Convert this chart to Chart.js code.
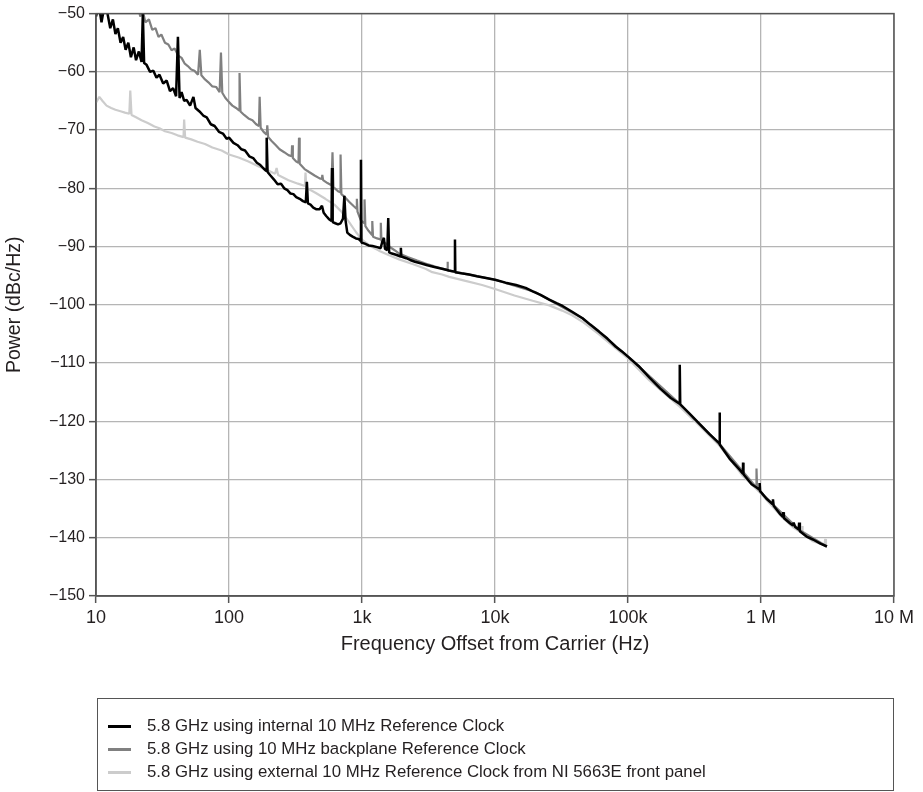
<!DOCTYPE html>
<html>
<head>
<meta charset="utf-8">
<script src="https://cdn.jsdelivr.net/npm/chart.js@4.4.1/dist/chart.umd.min.js"></script>
<style>
  html, body { margin: 0; padding: 0; background: #fff; }
  #wrap { position: relative; width: 923px; height: 792px; overflow: hidden; }
  #chart { position: absolute; left: 0; top: 0; }
  #legend {
    position: absolute; left: 97px; top: 698px; width: 797px; height: 93px;
    box-sizing: border-box; border: 1.5px solid #555;
    font-family: "Liberation Sans", Arial, sans-serif; font-size: 16.8px; color: #231f20;
  }
  .item { position: absolute; left: 10px; height: 20px; line-height: 20px; white-space: nowrap; }
  .swatch { display: inline-block; width: 23px; height: 3px; vertical-align: middle; margin-right: 16px; }
</style>
</head>
<body>
<div id="wrap">
  <canvas id="chart" width="923" height="792"></canvas>
  <div id="legend"></div>
</div>
<script>
// ---- data (frequency in Hz, power in dBc/Hz) ----
const seriesLabels = [
  '5.8 GHz using internal 10 MHz Reference Clock',
  '5.8 GHz using 10 MHz backplane Reference Clock',
  '5.8 GHz using external 10 MHz Reference Clock from NI 5663E front panel',
];
const seriesColors = ['#000000', '#808080', '#cccccc'];
const seriesWidths = [2.5, 2.2, 2.2];

const xTickValues = [10, 100, 1e3, 1e4, 1e5, 1e6, 1e7];
const xTickLabels = ['10', '100', '1k', '10k', '100k', '1 M', '10 M'];

const internalFreq = [10, 10.5, 11, 11.5, 12.2, 12.8, 13.4, 14, 14.6, 15.3, 16, 16.7, 17.5, 18.3, 19.2, 20, 21, 22, 22.5, 23,
  24, 25.5, 27, 28.5, 30, 32, 34, 36, 38, 40, 41.3, 42.5, 44, 46, 48, 51, 54, 56, 60, 64,
  68, 73, 78, 84, 90, 96, 100, 108, 116, 124, 132, 142, 152, 162, 172, 182, 190, 192, 195, 205,
  218, 232, 246, 260, 275, 290, 305, 320, 340, 360, 378, 385, 392, 410, 430, 455, 480, 500, 515, 540,
  565, 590, 595, 602, 630, 660, 690, 720, 737, 752, 775, 810, 850, 900, 945, 975, 982, 990, 1050, 1120,
  1200, 1300, 1380, 1420, 1460, 1490, 1550, 1575, 1600, 1680, 1800, 1950, 1960, 1975, 2150, 2300, 2500, 2800, 3100, 3500,
  4000, 4500, 4980, 5000, 5030, 5600, 6400, 7300, 8200, 10000, 12000, 14400, 17000, 19200, 22000, 25600, 29000, 32200, 38000, 45500,
  52000, 60600, 70000, 81000, 90000, 100000, 120000, 145000, 175000, 210000, 244000, 245000, 247000, 290000, 346000, 410000, 486000, 488000, 491000, 580000,
  690000, 731000, 733000, 738000, 850000, 975000, 977000, 985000, 1100000, 1220000, 1230000, 1245000, 1400000, 1460000, 1470000, 1485000, 1650000, 1740000, 1760000, 1800000,
  1920000, 1935000, 1960000, 2200000, 2460000, 2800000, 3130000];
const internalPower = [-50.5, -48.5, -51.5, -49, -50, -52.5, -51, -53.5, -52.5, -55, -54, -56.2, -55, -57.5, -55.8, -58, -56.5, -58.3, -50, -58.5,
  -58.8, -60, -59.8, -61, -60.5, -62, -61.5, -63.3, -62.8, -64.2, -54, -64.5, -63.5, -65, -64.8, -65.8, -64.3, -66.2, -66.8, -67.5,
  -67.8, -69, -69.3, -70.3, -70.6, -71.5, -71.3, -72.2, -72.6, -73.3, -73.5, -74.5, -74.8, -75.6, -76, -76.6, -77, -71.3, -77.2, -77.8,
  -78.5, -79.3, -79.2, -80, -80.3, -80.9, -81, -81.5, -81.8, -82.2, -82.4, -78.9, -82.6, -82.8, -83.3, -83.6, -83.6, -83, -84.2, -84.8,
  -85.3, -85.6, -76.5, -85.8, -86, -86.2, -86, -85.2, -81.3, -85.5, -87.6, -88, -88.3, -88.6, -88.7, -89, -75.1, -89.3, -89.5, -89.8,
  -89.9, -90.1, -90.3, -89.2, -88.5, -90.4, -90.6, -85.1, -91, -91.2, -91.4, -91.7, -90.2, -91.7, -92, -92.3, -92.6, -92.9, -93.2, -93.5,
  -93.8, -94.1, -94.3, -88.8, -94.4, -94.6, -94.8, -95.1, -95.3, -95.7, -96.2, -96.6, -97.1, -97.7, -98.3, -99.1, -99.7, -100.2, -101.2, -102.3,
  -103.4, -104.6, -105.8, -107.2, -108, -108.9, -110.5, -112.5, -114.4, -116, -117, -110.3, -117.1, -118.7, -120.5, -122.2, -123.8, -118.5, -124, -126.4,
  -128.3, -129, -127.1, -129.1, -130.8, -131.7, -130.6, -132, -133.3, -134.2, -133.4, -134.5, -136, -136.4, -135.6, -136.6, -137.5, -137.9, -137.4, -138.1,
  -138.6, -137.4, -138.9, -139.8, -140.3, -141, -141.5];

const backplaneFreq = [20.5, 21.5, 22.5, 23.5, 25, 26.5, 28, 29.5, 31, 33, 35, 37, 39, 41.5, 44, 46.5, 49, 52, 55, 58.5,
  60.3, 62, 66, 70, 75, 80, 85, 87, 89, 94, 100, 106, 113, 119, 120, 122, 130, 140, 150, 160,
  168, 170, 173, 182, 192, 194, 197, 210, 225, 240, 260, 280, 296, 298, 302, 320, 333, 336, 340, 370,
  400, 440, 480, 500, 503, 510, 550, 590, 600, 610, 660, 686, 690, 700, 750, 800, 860, 910, 915, 925,
  980, 1040, 1045, 1060, 1120, 1190, 1195, 1210, 1300, 1380, 1385, 1400, 1520, 1650, 1800, 1900, 2200, 2600, 3000, 3500,
  4000, 4390, 4400, 4420, 5000, 7000, 10000, 20000, 45500, 100000, 245000, 488000, 920000, 925000, 935000, 1220000, 1930000, 3130000];
const backplanePower = [-48, -50.5, -49.5, -51.5, -51, -52.8, -52.5, -54, -53.6, -55, -55.3, -56.3, -56, -57.2, -57.6, -58.6, -59, -59.6, -59.8, -60.5,
  -56.2, -60.6, -61.3, -61.8, -62.5, -62.6, -63.5, -56.7, -63.6, -64.5, -65.2, -65.8, -66.2, -66.6, -60.2, -66.8, -67.4, -68, -68.3, -69,
  -69.3, -64.3, -69.6, -70.3, -70.8, -69.2, -71.2, -71.9, -72.6, -73.3, -73.8, -74.3, -74.5, -72.6, -74.8, -75.4, -75.6, -71.3, -75.8, -76.7,
  -77.2, -77.8, -78.3, -78.4, -77.7, -78.6, -79.1, -79.5, -73.8, -79.8, -80.5, -80.7, -74.2, -81, -81.6, -82.3, -83, -83.5, -81.8, -84,
  -85.5, -86, -81.9, -86.5, -87.3, -88, -85.6, -88.3, -88.6, -88.8, -85.9, -89, -89.5, -90.2, -90.8, -91.2, -91.8, -92.4, -92.9, -93.4,
  -93.8, -94, -92.6, -94.1, -94.4, -95, -95.7, -97.8, -102.3, -108.9, -117, -123.9, -131.3, -128.1, -131.5, -134.2, -138.6, -141.5];

const externalFreq = [10, 10.6, 11.2, 12, 13, 14, 15.5, 16.5, 17.8, 18.1, 18.5, 20, 22, 24.5, 27.5, 30, 33, 37, 41, 45.5,
  46, 46.8, 52, 58, 66, 75, 88, 100, 118, 140, 166, 195, 222, 228, 234, 280, 330, 372, 376, 382,
  450, 530, 620, 700, 800, 900, 1000, 1150, 1340, 1600, 1900, 2400, 3000, 3376, 4000, 4530, 6000, 8000, 10000, 14000,
  19200, 25600, 32000, 38000, 45500, 60000, 81000, 100000, 145000, 245000, 346000, 488000, 731000, 977000, 1230000, 1460000, 1740000, 2040000, 2045000, 2060000,
  2460000, 3000000, 3040000, 3080000];
const externalPower = [-65.3, -64.3, -65, -65.8, -66.2, -66.5, -66.8, -67, -67.2, -63.2, -67.4, -67.8, -68.3, -68.8, -69.4, -69.7, -70.2, -70.5, -70.9, -71.2,
  -68.2, -71.3, -71.6, -72, -72.4, -73, -73.5, -74.2, -74.7, -75.4, -76.2, -76.9, -77.5, -76.5, -77.7, -78.6, -79.2, -79.6, -77.3, -79.9,
  -80.8, -81.8, -82.8, -84, -85.8, -87.5, -88.8, -89.9, -90.7, -91.5, -92.2, -93, -93.8, -94.4, -94.8, -95.2, -95.9, -96.6, -97.3, -98.4,
  -99.3, -100.1, -101, -101.8, -102.9, -105, -107.5, -109.2, -113, -117.5, -120.8, -124.2, -129.4, -132.2, -134.7, -136.6, -138.2, -139.2, -138, -139.3,
  -140.6, -141.3, -140.2, -141.4];

// ---- chart ----
const FONT = '"Liberation Sans", Arial, sans-serif';
const INK = '#231f20';
const FRAME = '#555555';
const GRID = '#b5b5b5';

Chart.defaults.font.family = FONT;
Chart.defaults.color = INK;

function toPoints(freq, power) {
  return freq.map((f, i) => ({ x: f, y: power[i] }));
}

const series = [[internalFreq, internalPower], [backplaneFreq, backplanePower], [externalFreq, externalPower]];
const datasets = series.map(([f, p], i) => ({
  label: seriesLabels[i],
  data: toPoints(f, p),
  borderColor: seriesColors[i],
  borderWidth: seriesWidths[i],
  pointRadius: 0,
  tension: 0,
  borderJoinStyle: 'bevel',
  clip: 0,
}));

// frame round the plot area (top/right edges too)
const framePlugin = {
  id: 'frame',
  afterDatasetsDraw(chart) {
    const { ctx, chartArea: a } = chart;
    ctx.save();
    ctx.strokeStyle = FRAME;
    ctx.lineWidth = 1.5;
    ctx.strokeRect(a.left, a.top, a.right - a.left, a.bottom - a.top);
    ctx.restore();
  },
};

new Chart(document.getElementById('chart'), {
  type: 'line',
  data: { datasets },
  options: {
    responsive: false,
    animation: false,
    layout: { padding: { top: 11, right: 29, bottom: 133, left: 0 } },
    plugins: { legend: { display: false }, tooltip: { enabled: false } },
    scales: {
      x: {
        type: 'logarithmic',
        min: 10, max: 1e7,
        afterBuildTicks: (axis) => { axis.ticks = xTickValues.map(v => ({ value: v })); },
        afterFit: (s) => { s.height = 63; },
        ticks: {
          autoSkip: false, maxRotation: 0, padding: 4, color: INK,
          font: { size: 18 },
          callback: (v, i) => xTickLabels[i],
        },
        grid: { color: GRID, lineWidth: 1.3, tickLength: 7, tickColor: FRAME, tickWidth: 1.5 },
        border: { color: FRAME, width: 1.5 },
        title: {
          display: true, text: 'Frequency Offset from Carrier (Hz)', color: INK,
          font: { size: 20 }, padding: { top: 0, bottom: 3 },
        },
      },
      y: {
        min: -150, max: -50,
        afterFit: (s) => { s.width = 96; },
        ticks: {
          stepSize: 10, padding: 4, color: INK,
          font: { size: 16 },
          callback: (v) => (v < 0 ? '\u2212' + Math.abs(v) : String(v)),
        },
        grid: { color: GRID, lineWidth: 1.3, tickLength: 7, tickColor: FRAME, tickWidth: 1.5 },
        border: { color: FRAME, width: 1.5 },
        title: {
          display: true, text: 'Power (dBc/Hz)', color: INK,
          font: { size: 19.5 }, padding: { top: 3, bottom: 0 },
        },
      },
    },
  },
  plugins: [framePlugin],
});

// legend box (plain HTML, stacked like the reference)
const legend = document.getElementById('legend');
const legendTops = [17, 40, 63];
seriesLabels.forEach((label, i) => {
  const item = document.createElement('div');
  item.className = 'item';
  item.style.top = legendTops[i] + 'px';
  const sw = document.createElement('span');
  sw.className = 'swatch';
  sw.style.background = seriesColors[i];
  item.appendChild(sw);
  item.appendChild(document.createTextNode(label));
  legend.appendChild(item);
});
</script>
</body>
</html>
